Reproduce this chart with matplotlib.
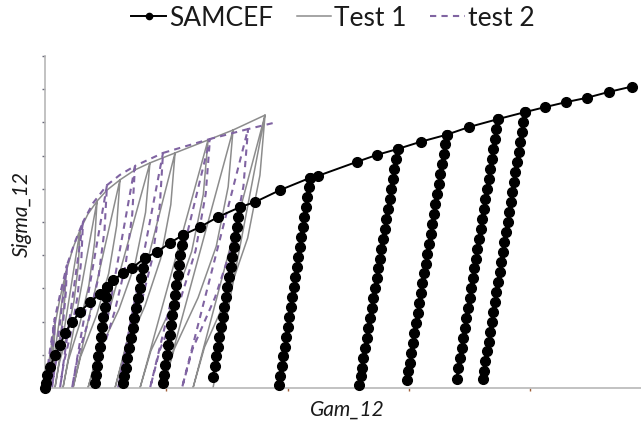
import matplotlib
matplotlib.use("Agg")
import matplotlib.pyplot as plt

# SAMCEF envelope (Gam_12, Sigma_12)
samcef_envelope = [
    (0.000, 0.0), (0.008, 1.5), (0.020, 3.9), (0.041, 6.3), (0.082, 9.9),
    (0.124, 13.0), (0.165, 16.6), (0.223, 19.9), (0.289, 22.9), (0.371, 25.9),
    (0.453, 28.3), (0.511, 30.4), (0.561, 32.5), (0.643, 34.6), (0.717, 36.1),
    (0.824, 39.2), (0.923, 41.0), (1.030, 43.7), (1.138, 46.1), (1.278, 48.5),
    (1.426, 51.5), (1.608, 54.5), (1.731, 56.0), (1.937, 59.6), (2.185, 63.3),
    (2.251, 63.9), (2.570, 68.1), (2.735, 70.2), (2.908, 72.0), (3.100, 74.2),
    (3.312, 76.3), (3.495, 78.6), (3.735, 81.0), (3.957, 83.1), (4.122, 84.6),
    (4.295, 86.1), (4.466, 87.4), (4.650, 89.2), (4.839, 90.8),
]

# envelope index where each unloading starts
unload_at = [11, 15, 18, 21, 24, 28, 30, 32, 33]

# SAMCEF unloading markers, top to bottom
unload1 = [(0.501, 27.5), (0.491, 24.5), (0.481, 21.5), (0.470, 18.5), (0.460, 15.5),
           (0.450, 12.5), (0.439, 9.5), (0.429, 6.5), (0.421, 4.0), (0.412, 1.5)]
unload2 = [(0.809, 36.0), (0.794, 33.0), (0.780, 30.0), (0.765, 27.0), (0.751, 24.0),
           (0.737, 21.0), (0.722, 18.0), (0.708, 15.0), (0.693, 12.0), (0.679, 9.0),
           (0.665, 6.0), (0.653, 3.5), (0.643, 1.5)]
unload3 = [(1.127, 43.0), (1.115, 40.0), (1.104, 37.0), (1.093, 34.0), (1.082, 31.0),
           (1.071, 28.0), (1.060, 25.0), (1.049, 22.0), (1.038, 19.0), (1.027, 16.0),
           (1.016, 13.0), (1.004, 10.0), (0.993, 7.0), (0.982, 4.0), (0.973, 1.5)]
unload4 = [(1.595, 51.5), (1.582, 48.5), (1.569, 45.5), (1.556, 42.5), (1.543, 39.5),
           (1.530, 36.5), (1.517, 33.5), (1.503, 30.5), (1.490, 27.5), (1.477, 24.5),
           (1.464, 21.5), (1.451, 18.5), (1.438, 15.5), (1.425, 12.5), (1.412, 9.5),
           (1.399, 6.5), (1.385, 3.3)]
unload5 = [(2.174, 60.5), (2.161, 57.5), (2.149, 54.5), (2.137, 51.5), (2.124, 48.5),
           (2.112, 45.5), (2.100, 42.5), (2.087, 39.5), (2.075, 36.5), (2.063, 33.5),
           (2.050, 30.5), (2.038, 27.5), (2.026, 24.5), (2.014, 21.5), (2.001, 18.5),
           (1.989, 15.5), (1.977, 12.5), (1.964, 9.5), (1.952, 6.5), (1.940, 3.5),
           (1.929, 0.9)]
unload6 = [(2.895, 69.0), (2.881, 66.0), (2.868, 63.0), (2.854, 60.0), (2.841, 57.0),
           (2.827, 54.0), (2.814, 51.0), (2.800, 48.0), (2.787, 45.0), (2.773, 42.0),
           (2.760, 39.0), (2.747, 36.0), (2.733, 33.0), (2.720, 30.0), (2.706, 27.0),
           (2.693, 24.0), (2.679, 21.0), (2.666, 18.0), (2.652, 15.0), (2.639, 12.0),
           (2.625, 9.0), (2.612, 6.0), (2.601, 3.5), (2.589, 0.9)]
unload7 = [(3.300, 73.5), (3.286, 70.5), (3.273, 67.5), (3.259, 64.5), (3.246, 61.5),
           (3.233, 58.5), (3.219, 55.5), (3.206, 52.5), (3.192, 49.5), (3.179, 46.5),
           (3.166, 43.5), (3.152, 40.5), (3.139, 37.5), (3.125, 34.5), (3.112, 31.5),
           (3.099, 28.5), (3.085, 25.5), (3.072, 22.5), (3.058, 19.5), (3.045, 16.5),
           (3.032, 13.5), (3.018, 10.5), (3.005, 7.5), (2.994, 5.0), (2.982, 2.4)]
unload8 = [(3.722, 78.0), (3.709, 75.0), (3.696, 72.0), (3.683, 69.0), (3.670, 66.0),
           (3.657, 63.0), (3.644, 60.0), (3.631, 57.0), (3.617, 54.0), (3.604, 51.0),
           (3.591, 48.0), (3.578, 45.0), (3.565, 42.0), (3.552, 39.0), (3.539, 36.0),
           (3.526, 33.0), (3.513, 30.0), (3.500, 27.0), (3.487, 24.0), (3.474, 21.0),
           (3.461, 18.0), (3.448, 15.0), (3.434, 12.0), (3.421, 9.0), (3.408, 6.0),
           (3.394, 2.7)]
unload9 = [(3.944, 80.0), (3.931, 77.0), (3.918, 74.0), (3.905, 71.0), (3.892, 68.0),
           (3.878, 65.0), (3.865, 62.0), (3.852, 59.0), (3.839, 56.0), (3.826, 53.0),
           (3.813, 50.0), (3.800, 47.0), (3.787, 44.0), (3.774, 41.0), (3.761, 38.0),
           (3.748, 35.0), (3.735, 32.0), (3.722, 29.0), (3.709, 26.0), (3.696, 23.0),
           (3.683, 20.0), (3.670, 17.0), (3.657, 14.0), (3.644, 11.0), (3.631, 8.0),
           (3.618, 5.0), (3.608, 2.7)]
unloads = [unload1, unload2, unload3, unload4, unload5, unload6, unload7, unload8, unload9]

# Test 1 cyclic curve: envelope -> peak -> straight unload to zero -> curved reload to peak
test1 = [
    (0.000, 0.0), (0.041, 9.9), (0.082, 19.0),
    (0.016, 0.0), (0.027, 2.9), (0.049, 6.7), (0.066, 10.5), (0.077, 14.8), (0.082, 19.0),
    (0.124, 27.1), (0.173, 34.9),
    (0.041, 0.0), (0.062, 5.2), (0.107, 12.2), (0.141, 19.2), (0.164, 27.2), (0.173, 34.9),
    (0.231, 42.2), (0.289, 47.6),
    (0.082, 0.0), (0.115, 7.1), (0.186, 16.7), (0.239, 26.2), (0.275, 37.1), (0.289, 47.6),
    (0.354, 52.4), (0.429, 56.3),
    (0.148, 0.0), (0.193, 8.4), (0.289, 19.7), (0.362, 31.0), (0.409, 43.9), (0.429, 56.3),
    (0.511, 59.6), (0.618, 62.7),
    (0.231, 0.0), (0.293, 9.4), (0.425, 21.9), (0.525, 34.5), (0.591, 48.9), (0.618, 62.7),
    (0.742, 65.7), (0.865, 67.8),
    (0.354, 0.0), (0.436, 10.2), (0.610, 23.7), (0.742, 37.3), (0.829, 52.9), (0.865, 67.8),
    (1.072, 70.8),
    (0.577, 0.0), (0.656, 10.6), (0.825, 24.8), (0.953, 38.9), (1.037, 55.2), (1.072, 70.8),
    (1.344, 74.7),
    (0.783, 0.0), (0.873, 11.2), (1.064, 26.1), (1.209, 41.1), (1.305, 58.3), (1.344, 74.7),
    (1.550, 77.7),
    (0.973, 0.0), (1.065, 11.7), (1.262, 27.2), (1.412, 42.7), (1.510, 60.6), (1.550, 77.7),
    (1.814, 82.2),
    (1.220, 0.0), (1.315, 12.3), (1.517, 28.8), (1.671, 45.2), (1.772, 64.1), (1.814, 82.2),
    (1.385, 0.0),
]

# test 2 cyclic curve
test2 = [
    (0.000, 0.0), (0.041, 11.4), (0.082, 21.1),
    (0.008, 0.0), (0.020, 3.2), (0.045, 7.4), (0.064, 11.6), (0.077, 16.5), (0.082, 21.1),
    (0.132, 29.5), (0.181, 37.0),
    (0.058, 0.0), (0.078, 5.6), (0.120, 13.0), (0.151, 20.4), (0.172, 28.9), (0.181, 37.0),
    (0.247, 44.0), (0.313, 50.0),
    (0.124, 0.0), (0.154, 7.5), (0.219, 17.5), (0.268, 27.5), (0.300, 39.0), (0.313, 50.0),
    (0.396, 55.7), (0.511, 61.1),
    (0.223, 0.0), (0.269, 9.2), (0.367, 21.4), (0.442, 33.6), (0.491, 47.7), (0.511, 61.1),
    (0.618, 64.2), (0.742, 66.9),
    (0.412, 0.0), (0.465, 10.0), (0.577, 23.4), (0.663, 36.8), (0.719, 52.2), (0.742, 66.9),
    (0.973, 70.8),
    (0.602, 0.0), (0.661, 10.6), (0.788, 24.8), (0.884, 38.9), (0.947, 55.2), (0.973, 70.8),
    (1.360, 75.0),
    (0.866, 0.0), (0.945, 11.3), (1.113, 26.3), (1.241, 41.3), (1.325, 58.5), (1.360, 75.0),
    (1.674, 78.0),
    (1.129, 0.0), (1.216, 11.7), (1.402, 27.3), (1.543, 42.9), (1.636, 60.8), (1.674, 78.0),
    (1.913, 80.1),
]

# build SAMCEF path: go down each unloading line and back up to the peak
samcef = []
for i, pt in enumerate(samcef_envelope):
    samcef.append(pt)
    if i in unload_at:
        samcef += unloads[unload_at.index(i)]
        samcef.append(pt)

plt.rcParams['font.family'] = ['Lato', 'DejaVu Sans']

fig = plt.figure(figsize=(6.41, 4.22), dpi=100)
ax = fig.add_axes([45 / 641, 34 / 422, 596 / 641, 332 / 422])

x1, y1 = zip(*test1)
ax.plot(x1, y1, color='#8c8c8c', lw=1.1, label='Test 1', zorder=2)
x2, y2 = zip(*test2)
ax.plot(x2, y2, color='#8064a2', lw=1.5, ls=(0, (3, 2.5)), label='test 2', zorder=2)
xs, ys = zip(*samcef)
ax.plot(xs, ys, color='black', lw=1.4, marker='o', ms=7, label='SAMCEF',
        zorder=3, clip_on=False)

ax.set_xlim(0, 596 / 121.3)
ax.set_ylim(0, 100)
ax.set_xticks([0, 1, 2, 3, 4])
ax.set_yticks(range(0, 101, 10))
ax.tick_params(axis='x', length=2.5, width=1, color='#a0603a', labelbottom=False)
ax.tick_params(axis='y', length=2.5, width=1, color='#6a6a7a', labelleft=False)
for s in ['top', 'right']:
    ax.spines[s].set_visible(False)
for s in ['left', 'bottom']:
    ax.spines[s].set_color('#b8b8b8')
    ax.spines[s].set_linewidth(1.2)

fig.text(22 / 641, 1 - 214 / 422, 'Sigma_12', rotation=90, ha='center', va='center',
         style='italic', fontsize=15, color='#1a1a1a')
fig.text(347 / 641, 1 - 410 / 422, 'Gam_12', ha='center', va='center',
         style='italic', fontsize=15, color='#1a1a1a')

handles, labels = ax.get_legend_handles_labels()
order = [2, 0, 1]
leg = fig.legend([handles[i] for i in order], [labels[i] for i in order],
                 loc='center', bbox_to_anchor=(333 / 641, 1 - 18 / 422), ncol=3,
                 frameon=False, fontsize=19, handlelength=1.3, handletextpad=0.12,
                 columnspacing=0.9, numpoints=1)
leg.legend_handles[0].set_markersize(4.5)
for t in leg.get_texts():
    t.set_color('#1a1a1a')

fig.savefig('out.png', dpi=100)
